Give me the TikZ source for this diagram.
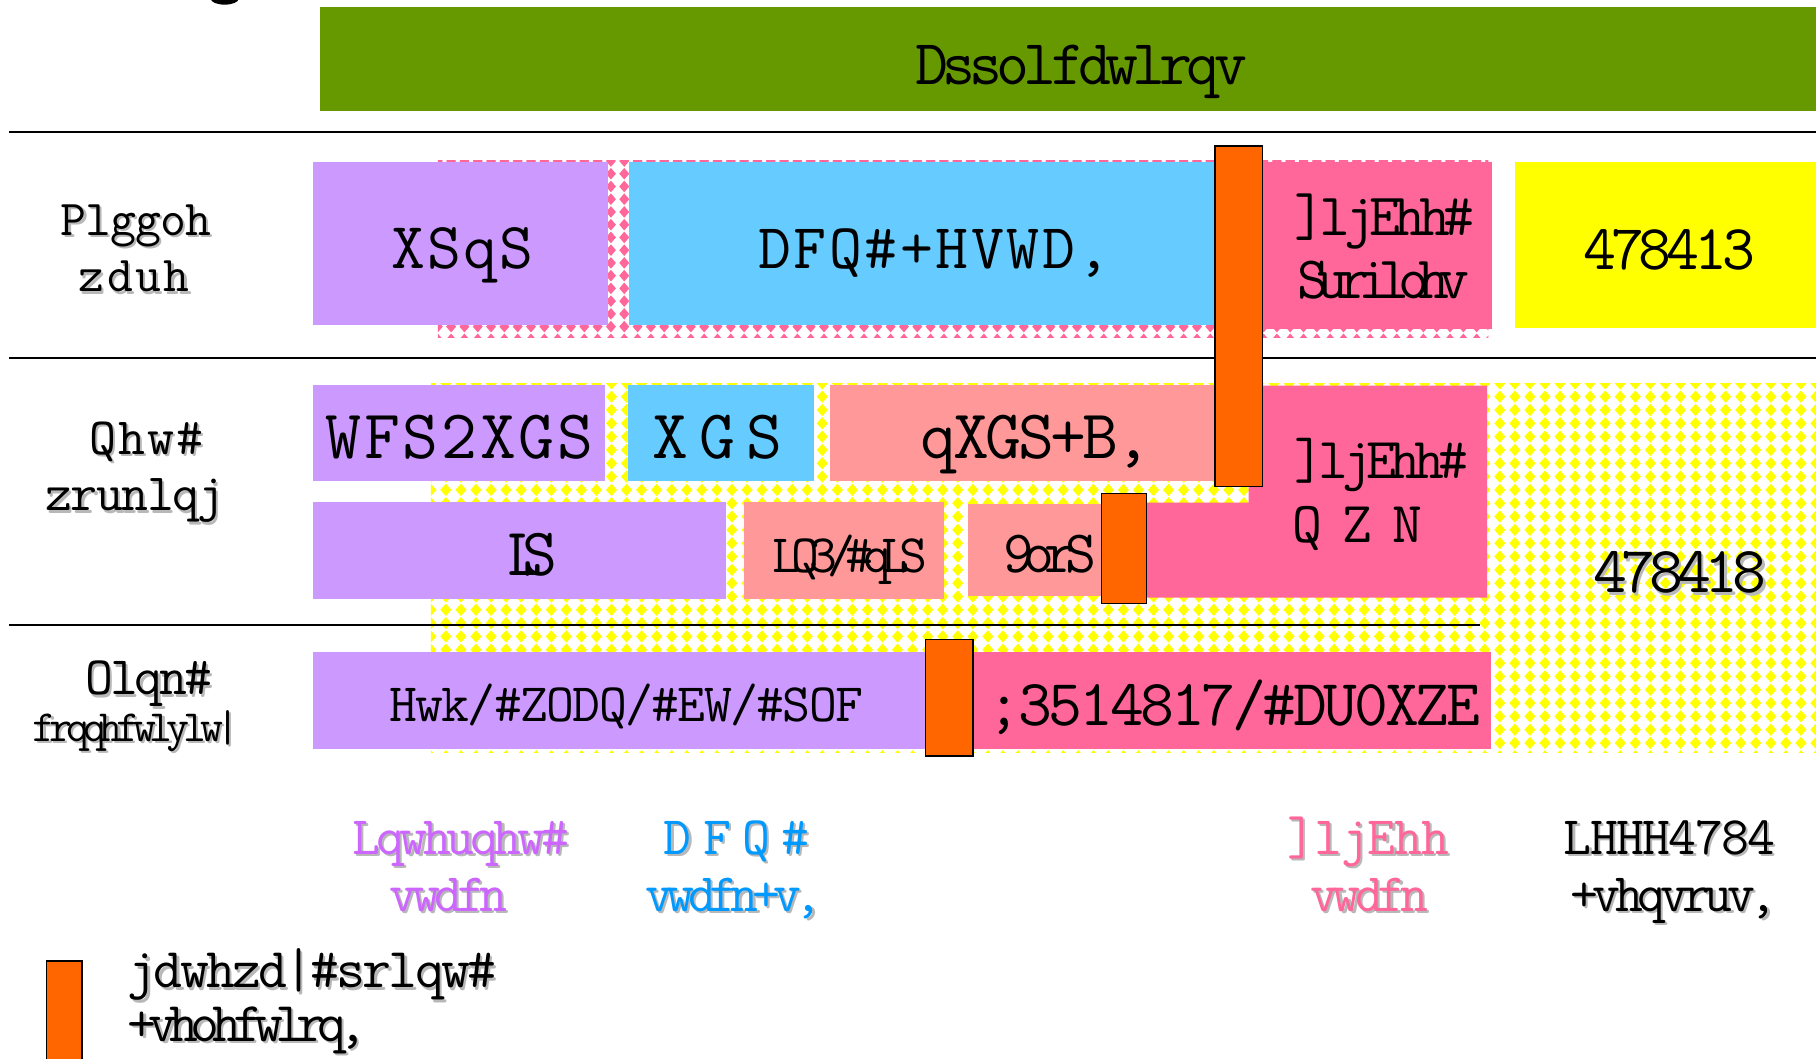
\documentclass[tikz,border=0pt]{standalone}
\usepackage{fontspec}
\newcommand\cf{\ttfamily}
\definecolor{appgreen}{HTML}{669900}
\definecolor{upurple}{HTML}{CC99FF}
\definecolor{ablue}{HTML}{66CCFF}
\definecolor{zpink}{HTML}{FF6699}
\definecolor{salmon}{HTML}{FF9999}
\definecolor{iyellow}{HTML}{FFFF00}
\definecolor{gorange}{HTML}{FF6600}
\definecolor{lpurple}{HTML}{CC66FF}
\definecolor{lblue}{HTML}{0099FF}
\newcommand\fs[1]{\fontsize{#1pt}{#1pt}\selectfont}
\ExplSyntaxOn
\NewDocumentCommand\ls{mm}{
  \tl_map_inline:nn {#2} { \makebox[\dim_eval:n{0.525em + #1em / 100}][l]{##1} }
}
\ExplSyntaxOff
\newcommand\shd[1]{\makebox[0pt][l]{\hspace*{1.1pt}\raisebox{-1.1pt}{\color{black!28}#1}}#1}
\tikzset{
  txt/.style={inner sep=0pt, anchor=base, font=\cf, text=black},
  gatebar/.style={fill=gorange, draw=black, line width=0.8pt},
  sepline/.style={draw=black, line width=1pt},
}
\begin{document}
\begin{tikzpicture}[x=0.02cm,y=-0.02cm]
\useasboundingbox (0,0) rectangle (1568,914);
% cut-off glyph at top
\fill[black] (194,-1) ellipse [x radius=12, y radius=5];
% applications
\fill[appgreen] (276,6) rectangle (1568,96);
% pink diamond pattern (row 1)
\begin{scope}
\clip (378,139) rectangle (1285,291);
\fill[white] (378,139) rectangle (1285,291);
\fill[zpink] \foreach \i in {0,...,79} { \foreach \j in {0,...,14} {
  ({378+\i*11.5},{139+\j*11}) +(-4.3,0) -- +(0,-5) -- +(4.3,0) -- +(0,5) -- cycle } };
\end{scope}
% yellow diamond pattern (rows 2-3)
\begin{scope}
\clip (372,331) rectangle (1568,650);
\fill[white] (372,331) rectangle (1568,650);
\fill[iyellow] \foreach \i in {0,...,93} { \foreach \j in {0,...,28} {
  ({372+\i*13},{331+\j*11.5}) +(-4.8,0) -- +(0,-5.3) -- +(4.8,0) -- +(0,5.3) -- cycle } };
\end{scope}
% separators
\draw[sepline] (8,114) -- (1568,114);
\draw[sepline] (8,309) -- (1568,309);
\draw[sepline] (8,540) -- (1278,540);
% row 1 boxes
\fill[upurple] (270,140) rectangle (525,281);
\fill[ablue] (543,140) rectangle (1050,281);
\fill[zpink] (1090,140) rectangle (1288,284);
\fill[iyellow] (1308,140) rectangle (1568,283);
% row 2 boxes
\fill[upurple] (270,332) rectangle (522,415);
\fill[ablue] (542,332) rectangle (703,415);
\fill[salmon] (717,332) rectangle (1049,415);
\fill[upurple] (270,433) rectangle (627,517);
\fill[salmon] (642,433) rectangle (815,517);
\fill[salmon] (836,435) rectangle (951,515);
\fill[zpink] (1078,333) -- (1284,333) -- (1284,516) -- (960,516) -- (960,434) -- (1078,434) -- cycle;
% row 3 boxes
\fill[upurple] (270,563) rectangle (800,647);
\fill[zpink] (840,563) rectangle (1287,647);
% gateway bars
\draw[gatebar] (1049,126) rectangle (1090,420);
\draw[gatebar] (951,426) rectangle (990,521);
\draw[gatebar] (799,552) rectangle (840,653);
\draw[gatebar] (40,830) rectangle (71,920);
% texts
\node[txt] (apps) at (931,73) {\fs{31.4}\ls{-10}{Dssolfdwlrqv}};
\node[txt] (mw1) at (117,203) {\fs{24.7}\shd{\ls{-3}{Plggoh}}};
\node[txt] (mw2) at (117,252) {\fs{24.7}\shd{\ls{4}{zduh}}};
\node[txt] (nw1) at (127,392) {\fs{25.7}\shd{\ls{3}{Qhw\#}}};
\node[txt] (nw2) at (116,441) {\fs{25.7}\shd{\ls{-4}{zrunlqj}}};
\node[txt] (lk1) at (127,600) {\fs{26.6}\shd{\ls{-7}{Olqn\#}}};
\node[txt] (lk2) at (115,640) {\fs{21.9}\shd{\ls{-15}{frqqhfwlylw|}}};
\node[txt] (upnp) at (400,232) {\fs{32.3}\ls{2}{XSqS}};
\node[txt] (acn) at (808,232) {\fs{31.4}\ls{3}{DFQ\#+HVWD,}};
\node[txt] (zp1) at (1193,203) {\fs{29.5}\ls{-11}{]ljEhh\#}};
\node[txt] (zp2) at (1190,258) {\fs{29.5}\ls{-19}{Surilohv}};
\node[txt] (i0) at (1439,233) {\fs{31.4}\ls{-9}{478413}};
\node[txt] (tcp) at (398,396) {\fs{34.2}\ls{3}{WFS2XGS}};
\node[txt] (udp) at (624,396) {\fs{34.2}\ls{15}{XGS}};
\node[txt] (nudp) at (893,396) {\fs{34.2}\ls{-6}{qXGS+B,}};
\node[txt] (ip) at (451,497) {\fs{33.3}\ls{-31}{LS}};
\node[txt] (lq) at (730,494) {\fs{26.6}\ls{-19}{LQ3/\#qLS}};
\node[txt] (six) at (902,494) {\fs{29.5}\ls{-18}{9orS}};
\node[txt] (zn1) at (1190,413) {\fs{28.5}\ls{-11}{]ljEhh\#}};
\node[txt] (zn2) at (1181,468) {\fs{28.5}\ls{34}{QZN}};
\node[txt] (i5) at (1448,512) {\fs{32.3}\shd{\ls{-10}{478418}}};
\node[txt] (eth) at (540,623) {\fs{26.6}\ls{-4}{Hwk/\#ZODQ/\#EW/\#SOF}};
\node[txt] (ieee) at (1064,626) {\fs{32.3}\ls{-6}{;3514817/\#DU0XZE}};
\node[txt, text=lpurple] (lg1a) at (396,738) {\fs{26.6}\shd{\ls{-9}{Lqwhuqhw\#}}};
\node[txt, text=lpurple] (lg1b) at (385,787) {\fs{26.6}\shd{\ls{-11}{vwdfn}}};
\node[txt, text=lblue] (lg2a) at (641,738) {\fs{26.6}\shd{\ls{20}{DFQ\#}}};
\node[txt, text=lblue] (lg2b) at (631,787) {\fs{26.6}\shd{\ls{-13}{vwdfn+v,}}};
\node[txt, text=zpink] (lg3a) at (1181,738) {\fs{26.6}\shd{\ls{-3}{]ljEhh}}};
\node[txt, text=zpink] (lg3b) at (1180,787) {\fs{26.6}\shd{\ls{-11}{vwdfn}}};
\node[txt] (lg4a) at (1441,738) {\fs{26.6}\shd{\ls{-4}{LHHH4784}}};
\node[txt] (lg4b) at (1443,787) {\fs{26.6}\shd{\ls{-11}{+vhqvruv,}}};
\node[txt, anchor=base west] (gw1) at (110,853) {\fs{27.6}\shd{\ls{-6}{jdwhzd|\#srlqw\#}}};
\node[txt, anchor=base west] (gw2) at (110,899) {\fs{27.6}\shd{\ls{-15}{+vhohfwlrq,}}};
\end{tikzpicture}
\end{document}
